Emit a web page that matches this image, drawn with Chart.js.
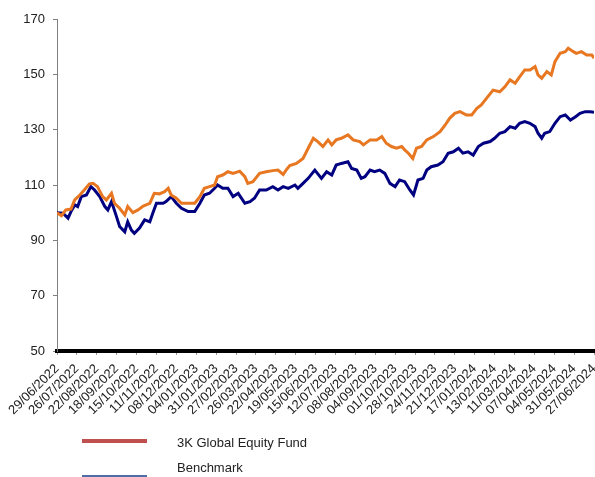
<!DOCTYPE html>
<html>
<head>
<meta charset="utf-8">
<script src="https://cdn.jsdelivr.net/npm/chart.js@4"></script>
<style>
  html, body { margin: 0; padding: 0; background: #fff; }
  #wrap { position: relative; width: 595px; height: 477px; overflow: hidden; font-family: "Liberation Sans", Arial, sans-serif; }
  canvas { position: absolute; left: 0; top: 0; }
  .lg-line { position: absolute; left: 82px; width: 65px; }
  .lg-text { position: absolute; left: 177px; font-size: 13px; color: #222; line-height: 16px; white-space: nowrap; }
</style>
</head>
<body>
<div id="wrap">
  <canvas id="c" width="595" height="477"></canvas>
  <div class="lg-line" style="top:439px;height:4px;background:#C0504D;"></div>
  <div class="lg-text" style="top:435px;">3K Global Equity Fund</div>
  <div class="lg-text" style="top:460px;">Benchmark</div>
  <div class="lg-line" style="top:475px;height:2px;background:#4F6EA8;"></div>
</div>
<script>
// x tick labels (every 27 calendar days from 29/06/2022)
const tickLabels = ['29/06/2022','26/07/2022','22/08/2022','18/09/2022','15/10/2022','11/11/2022','08/12/2022',
  '04/01/2023','31/01/2023','27/02/2023','26/03/2023','22/04/2023','19/05/2023','15/06/2023','12/07/2023',
  '08/08/2023','04/09/2023','01/10/2023','28/10/2023','24/11/2023','21/12/2023','17/01/2024','13/02/2024',
  '11/03/2024','07/04/2024','04/05/2024','31/05/2024','27/06/2024'];
const tickStepDays = 27;

// 3K Global Equity Fund: day offset from 29/06/2022 and value
const fundDays = [0,6,12,19,24,31,37,44,49,55,62,67,74,78,85,92,96,103,110,117,126,132,139,146,151,155,162,169,178,187,
  194,200,207,214,218,225,232,239,248,255,259,266,275,284,293,300,307,311,316,325,334,341,348,354,361,368,373,379,386,395,
  402,411,416,425,434,441,447,454,461,468,472,477,483,488,495,502,511,520,527,533,540,547,556,563,570,576,583,592,601,608,
  615,622,628,635,642,649,653,658,665,671,676,683,690,694,701,705,712,719,726,729];
const fundValues = [100,98.9,101,101.3,104.6,106.4,108.2,110.4,110.6,109.4,105.8,104.6,107,103.4,101.6,99.2,102.2,100,101,102.4,
  103.4,107,106.8,107.6,108.8,106.4,105.2,103.4,103.4,103.4,
  105.8,108.8,109.4,110,113,113.6,114.8,114.2,115,113,110.6,111.2,114.2,114.8,115.2,115.4,113.8,115.4,117,117.8,
  119.6,123.3,126.9,125.7,123.9,126.3,124.5,126.3,126.9,128.1,
  126.3,125.7,124.5,126.3,126.3,127.5,125.1,123.9,123.3,123.9,122.7,121.5,119.6,123.3,123.9,126.3,127.5,129.3,131.7,134.1,
  135.9,136.5,135.3,135.3,137.7,138.9,141.3,144.3,143.7,145.5,
  148,146.8,149.1,151.6,151.6,152.8,149.8,148.6,151,149.8,154.6,157.6,158.2,159.4,158.2,157.6,158.2,157,157,155.8];

// Benchmark: day offset and value
const benchDays = [0,8,15,19,24,28,33,40,46,51,58,65,69,74,80,85,92,96,101,105,112,119,126,130,135,144,148,155,162,169,
  178,187,194,200,207,214,218,225,232,239,246,255,262,268,275,284,293,300,307,314,323,327,334,341,350,359,366,373,379,386,
  395,400,407,413,418,425,431,438,445,452,459,465,472,479,484,490,497,502,508,517,524,531,538,545,551,558,565,572,579,588,
  594,601,608,615,622,628,635,642,649,653,658,662,669,676,683,690,697,704,710,717,724,729];
const benchValues = [100,99.8,98,100.4,102.8,102.2,105.8,106.4,109.4,108.2,105.8,102.2,101,104,99.2,95,93.1,96.7,93.7,92.5,
  94.4,97.4,96.7,99.8,103.4,103.4,104,105.8,103.4,101.6,
  100.4,100.4,103.4,106.4,107,108.8,110,108.8,108.8,105.8,107,103.4,104,105.2,108.2,108.2,109.4,108.2,109.4,108.8,
  110,108.8,110.6,112.4,115.4,112.4,114.8,113.6,117.2,117.8,
  118.4,116,115.4,112.4,113,115.4,114.8,115.4,114.2,110.6,109.4,111.8,111.2,108.2,106.4,111.8,112.4,115.4,116.6,117.2,
  118.4,121.5,122,123.3,121.5,122,120.8,123.9,125.1,125.7,
  126.9,128.7,129.3,131.1,130.5,132.3,132.9,132.3,131.1,128.7,126.9,128.7,129.3,132.3,134.7,135.3,133.5,134.7,135.9,136.5,136.5,136.3];

const yMin = 50, yMax = 170, yStep = 20;

const toPoints = (days, vals) => days.map((d, i) => ({x: d, y: vals[i]}));
const lastDay = (tickLabels.length - 1) * tickStepDays;

Chart.defaults.font.family = '"Liberation Sans", Arial, sans-serif';
Chart.defaults.font.size = 13;
Chart.defaults.color = '#222';

new Chart(document.getElementById('c'), {
  type: 'line',
  data: {
    datasets: [
      { label: '3K Global Equity Fund', data: toPoints(fundDays, fundValues), borderColor: '#E87722', borderWidth: 3, pointRadius: 0, tension: 0 },
      { label: 'Benchmark', data: toPoints(benchDays, benchValues), borderColor: '#000080', borderWidth: 3, pointRadius: 0, tension: 0 }
    ]
  },
  options: {
    responsive: false,
    animation: false,
    devicePixelRatio: 1,
    layout: { padding: { top: 19, left: 0, right: 1, bottom: 36 } },
    plugins: { legend: { display: false }, tooltip: { enabled: false } },
    scales: {
      x: {
        type: 'linear',
        min: 0,
        max: lastDay,
        afterBuildTicks: s => { s.ticks = tickLabels.map((_, i) => ({ value: i * tickStepDays })); },
        afterFit: s => { s.height = 90; s.paddingLeft = 0; s.paddingRight = 0; },
        ticks: {
          autoSkip: false,
          minRotation: 45,
          maxRotation: 45,
          padding: 6,
          color: '#222',
          font: { size: 13 },
          callback: (v, i) => tickLabels[i]
        },
        grid: { drawOnChartArea: false, drawTicks: true, tickLength: 4, color: '#999' },
        border: { display: true, color: '#000', width: 4 }
      },
      y: {
        min: yMin,
        max: yMax,
        afterFit: s => { s.width = 57; },
        ticks: { stepSize: yStep, padding: 8, color: '#222', font: { size: 13 } },
        grid: { drawOnChartArea: false, drawTicks: true, tickLength: 4, color: '#808080' },
        border: { display: true, color: '#808080', width: 1 }
      }
    }
  }
});
</script>
</body>
</html>
